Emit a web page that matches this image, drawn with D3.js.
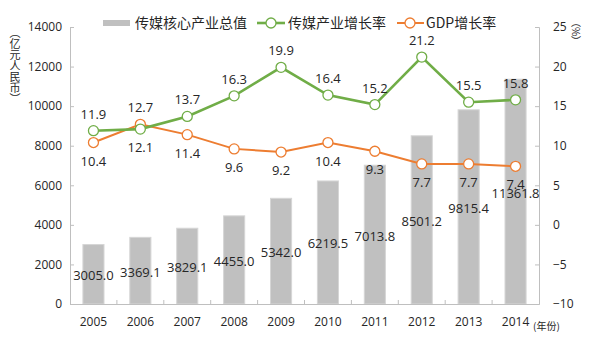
<!DOCTYPE html>
<html>
<head>
<meta charset="utf-8">
<script src="https://cdn.jsdelivr.net/npm/d3@7"></script>
<style>
  body { margin: 0; background: #fff; }
  text { font-family: "Open Sans", "Noto Sans CJK SC", sans-serif; fill: #262626; }
  .cjk { font-family: "Noto Sans CJK SC", sans-serif; }
</style>
</head>
<body>
<svg id="chart" width="598" height="343"></svg>
<script>
const years = ["2005", "2006", "2007", "2008", "2009", "2010", "2011", "2012", "2013", "2014"];
const coreValue = [3005.0, 3369.1, 3829.1, 4455.0, 5342.0, 6219.5, 7013.8, 8501.2, 9815.4, 11361.8];
const mediaGrowth = [11.9, 12.1, 13.7, 16.3, 19.9, 16.4, 15.2, 21.2, 15.5, 15.8];
const gdpGrowth = [10.4, 12.7, 11.4, 9.6, 9.2, 10.4, 9.3, 7.7, 7.7, 7.4];
// label below the point (true) or above
const mediaBelow = [false, true, false, false, false, false, false, false, false, false];
const gdpBelow = [true, false, true, true, true, true, true, true, true, true];
const leftTicks = [0, 2000, 4000, 6000, 8000, 10000, 12000, 14000];
const rightTicks = [-10, -5, 0, 5, 10, 15, 20, 25];

const svg = d3.select("#chart");
const margin = { top: 27, right: 59, bottom: 39, left: 70 };
const W = 598, H = 343;
const green = "#70ad47", orange = "#ed7d31", axisColor = "#bfbfbf";

const x = d3.scaleBand().domain(years).range([margin.left, W - margin.right]).paddingInner(0.55).paddingOuter(0.275);
const yL = d3.scaleLinear().domain([0, 14000]).range([H - margin.bottom, margin.top]);
const yR = d3.scaleLinear().domain([-10, 25]).range([H - margin.bottom, margin.top]);
const cx = d => x(d) + x.bandwidth() / 2;

// bars
svg.append("g").selectAll("rect").data(years).join("rect")
  .attr("x", d => x(d))
  .attr("width", x.bandwidth())
  .attr("y", (d, i) => yL(coreValue[i]))
  .attr("height", (d, i) => yL(0) - yL(coreValue[i]))
  .attr("fill", "#c0c0c0")
  .attr("stroke", "#d6d6d6")
  .attr("stroke-width", 1);

// axes
const axL = svg.append("g").attr("transform", `translate(${margin.left},0)`)
  .call(d3.axisLeft(yL).tickValues(leftTicks).tickSize(-4).tickPadding(16).tickFormat(d3.format("d")));
const axR = svg.append("g").attr("transform", `translate(${W - margin.right},0)`)
  .call(d3.axisRight(yR).tickValues(rightTicks).tickSize(-4).tickPadding(14));
const axX = svg.append("g").attr("transform", `translate(0,${yL(0)})`)
  .call(d3.axisBottom(x).tickSize(0).tickPadding(13));
[axL, axR, axX].forEach(a => {
  a.select(".domain").attr("stroke", axisColor);
  a.selectAll(".tick line").attr("stroke", axisColor);
  a.selectAll(".tick text").attr("font-size", 12).attr("font-family", "Open Sans").attr("fill", "#262626");
});
axR.selectAll(".tick text").attr("text-anchor", "start");
axL.selectAll(".tick text").attr("dx", 8);

// category boundary ticks on x axis
const step = x.step();
svg.append("g").selectAll("line").data(d3.range(1, years.length)).join("line")
  .attr("x1", i => margin.left + i * step).attr("x2", i => margin.left + i * step)
  .attr("y1", yL(0)).attr("y2", yL(0) - 4)
  .attr("stroke", axisColor);

// lines
function drawSeries(vals, color, width, below) {
  const line = d3.line().x((d, i) => cx(years[i])).y(d => yR(d));
  svg.append("path").datum(vals).attr("d", line)
    .attr("fill", "none").attr("stroke", color).attr("stroke-width", width);
  svg.append("g").selectAll("circle").data(vals).join("circle")
    .attr("cx", (d, i) => cx(years[i])).attr("cy", d => yR(d)).attr("r", 5)
    .attr("fill", "#fff").attr("stroke", color).attr("stroke-width", 1.3);
  svg.append("g").selectAll("text").data(vals).join("text")
    .attr("x", (d, i) => cx(years[i]))
    .attr("y", (d, i) => yR(d) + (below[i] ? 23 : -12))
    .attr("text-anchor", "middle").attr("font-size", 13)
    .text(d => d.toFixed(1));
}

// bar labels at bar middle
svg.append("g").selectAll("text").data(years).join("text")
  .attr("x", d => cx(d))
  .attr("y", (d, i) => (yL(coreValue[i]) + yL(0)) / 2 + 6)
  .attr("text-anchor", "middle").attr("font-size", 13)
  .text((d, i) => coreValue[i].toFixed(1));

drawSeries(gdpGrowth, orange, 2, gdpBelow);
drawSeries(mediaGrowth, green, 2.6, mediaBelow);

// legend
const lg = svg.append("g");
lg.append("rect").attr("x", 103).attr("y", 20).attr("width", 27).attr("height", 6).attr("fill", "#c0c0c0");
lg.append("text").attr("class", "cjk").attr("x", 135).attr("y", 28).attr("font-size", 14).text("传媒核心产业总值");
lg.append("line").attr("x1", 257).attr("x2", 285).attr("y1", 23).attr("y2", 23).attr("stroke", green).attr("stroke-width", 2.6);
lg.append("circle").attr("cx", 271).attr("cy", 23).attr("r", 5).attr("fill", "#fff").attr("stroke", green).attr("stroke-width", 1.3);
lg.append("text").attr("class", "cjk").attr("x", 288).attr("y", 28).attr("font-size", 14).text("传媒产业增长率");
lg.append("line").attr("x1", 397).attr("x2", 424).attr("y1", 23).attr("y2", 23).attr("stroke", orange).attr("stroke-width", 2);
lg.append("circle").attr("cx", 410).attr("cy", 23).attr("r", 5).attr("fill", "#fff").attr("stroke", orange).attr("stroke-width", 1.3);
lg.append("text").attr("class", "cjk").attr("x", 426).attr("y", 28).attr("font-size", 14).text("GDP增长率");

// axis titles
svg.append("text").attr("class", "cjk").attr("x", 15).attr("y", 27)
  .attr("font-size", 11).style("writing-mode", "vertical-rl").text("（亿元人民币）");
svg.append("text").attr("class", "cjk").attr("x", 576).attr("y", 17)
  .attr("font-size", 10).style("writing-mode", "vertical-rl").text("（%）");
svg.append("text").attr("class", "cjk").attr("x", 533).attr("y", 330)
  .attr("font-size", 10).text("(年份)");
</script>
</body>
</html>
